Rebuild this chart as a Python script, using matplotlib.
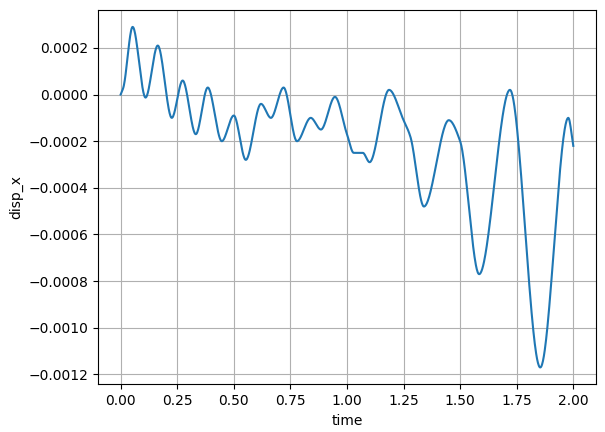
import numpy as np
import matplotlib
matplotlib.use("Agg")
import matplotlib.pyplot as plt

time = [0.0, 0.012, 0.053, 0.11, 0.164, 0.226, 0.274, 0.332, 0.385, 0.447, 0.5, 0.553,
        0.62, 0.664, 0.72, 0.779, 0.84, 0.885, 0.947, 1.0, 1.03, 1.07, 1.1, 1.186,
        1.25, 1.28, 1.34, 1.45, 1.5, 1.584, 1.72, 1.854, 1.978, 2.0]
disp_x = [0.0, 0.00003, 0.00029, -0.000013, 0.00021, -0.0001, 0.00006, -0.00017, 0.00003,
          -0.0002, -0.00009, -0.00028, -0.00004, -0.0001, 0.00003, -0.0002, -0.0001,
          -0.00015, -0.00001, -0.00017, -0.00025, -0.00025, -0.00029, 0.00002,
          -0.00011, -0.00018, -0.00048, -0.00011, -0.0002, -0.00077, 0.00002,
          -0.00117, -0.0001, -0.00022]

def pchip(x, y, xs):
    x = np.asarray(x); y = np.asarray(y)
    h = np.diff(x); d = np.diff(y) / h
    m = np.zeros_like(y)
    for k in range(1, len(x) - 1):
        if d[k-1] * d[k] > 0:
            w1 = 2*h[k] + h[k-1]; w2 = h[k] + 2*h[k-1]
            m[k] = (w1 + w2) / (w1/d[k-1] + w2/d[k])
    m[0] = d[0]; m[-1] = d[-1]
    i = np.clip(np.searchsorted(x, xs) - 1, 0, len(x) - 2)
    t = (xs - x[i]) / h[i]
    h00 = 2*t**3 - 3*t**2 + 1; h10 = t**3 - 2*t**2 + t
    h01 = -2*t**3 + 3*t**2; h11 = t**3 - t**2
    return h00*y[i] + h10*h[i]*m[i] + h01*y[i+1] + h11*h[i]*m[i+1]

xs = np.linspace(0, 2, 1000)
fig, ax = plt.subplots(figsize=(6.05, 4.32), dpi=100)
ax.plot(xs, pchip(time, disp_x, xs), color="#1f77b4")
ax.set_xlabel("time")
ax.set_ylabel("disp_x")
ax.grid(True)
fig.subplots_adjust(left=0.162, right=0.985, top=0.977, bottom=0.11)
fig.savefig("out.png")
